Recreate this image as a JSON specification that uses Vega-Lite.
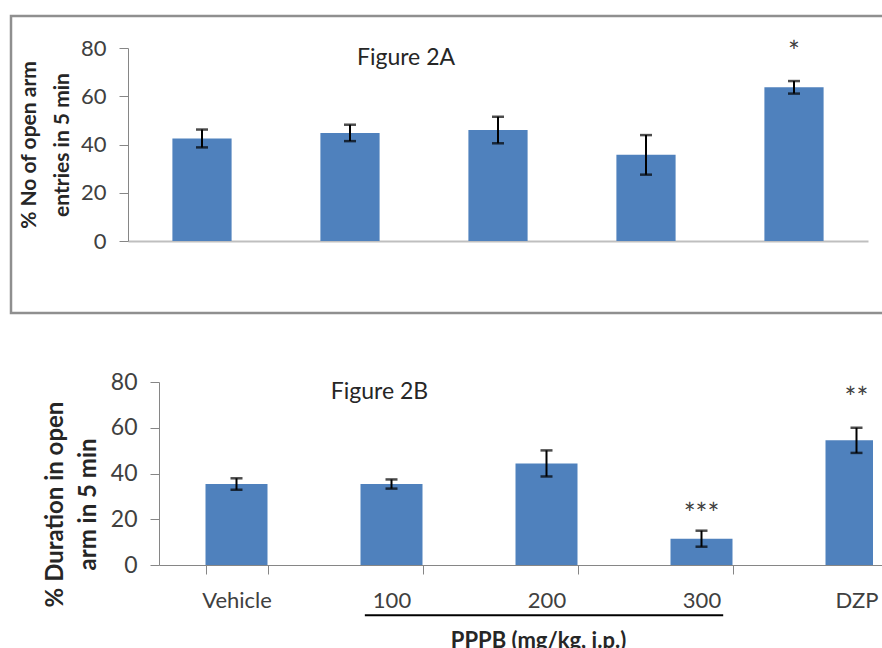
{
  "$schema": "https://vega.github.io/schema/vega-lite/v6.json",
  "padding": {"left": 9, "top": 14, "right": 0, "bottom": 0},
  "background": "white",
  "config": {
    "view": {"stroke": null},
    "concat": {"spacing": 20},
    "font": "Lato",
    "text": {"font": "Lato"}
  },
  "datasets": {
    "entries": [
      {"group": "Vehicle", "mean": 42.5, "sem": 3.7},
      {"group": "100", "mean": 44.8, "sem": 3.4},
      {"group": "200", "mean": 46.0, "sem": 5.5},
      {"group": "300", "mean": 35.7, "sem": 8.2},
      {"group": "DZP", "mean": 63.7, "sem": 2.6}
    ],
    "duration": [
      {"group": "Vehicle", "mean": 35.4, "sem": 2.5},
      {"group": "100", "mean": 35.4, "sem": 2.0},
      {"group": "200", "mean": 44.4, "sem": 5.7},
      {"group": "300", "mean": 11.5, "sem": 3.5},
      {"group": "DZP", "mean": 54.5, "sem": 5.5}
    ],
    "sigA": [
      {"group": "DZP", "label": "*", "at": 77.5}
    ],
    "sigB": [
      {"group": "300", "label": "***", "at": 21.5},
      {"group": "DZP", "label": "**", "at": 72}
    ],
    "captionA": [
      {"group": "100", "label": "Figure 2A", "at": 76}
    ],
    "captionB": [
      {"group": "100", "label": "Figure 2B", "at": 75.8}
    ],
    "doses": [
      {"group": "100", "to": "300", "at": -22}
    ]
  },
  "vconcat": [
    {
      "width": 880,
      "height": 297,
      "view": {"stroke": "#8f8f8f", "strokeWidth": 2.5},
      "data": {"name": "entries"},
      "encoding": {
        "x": {
          "field": "group",
          "type": "nominal",
          "sort": null,
          "scale": {"range": [117, 857], "paddingInner": 0.6, "paddingOuter": 0.3},
          "axis": {
            "orient": "bottom",
            "offset": -72,
            "labels": false,
            "ticks": false,
            "title": null,
            "domainColor": "#bfbfbf",
            "domainWidth": 2
          }
        },
        "y": {
          "field": "mean",
          "type": "quantitative",
          "scale": {"domain": [0, 80], "range": [225, 32], "nice": false},
          "axis": {
            "offset": -117,
            "values": [0, 20, 40, 60, 80],
            "grid": false,
            "tickSize": 9,
            "tickColor": "#868686",
            "domainColor": "#868686",
            "labelFontSize": 22,
            "labelColor": "#404040",
            "labelPadding": 13,
            "title": ["% No of open arm", "entries in 5 min"],
            "titleFontSize": 21,
            "titleFontWeight": "bold",
            "titleColor": "#262626",
            "titleLineHeight": 33,
            "titlePadding": 8
          }
        }
      },
      "layer": [
        {"mark": {"type": "bar", "color": "#4F81BD"}},
        {
          "mark": {"type": "errorbar", "color": "black", "thickness": 2, "ticks": {"size": 12, "thickness": 2.5, "color": "black"}},
          "encoding": {"yError": {"field": "sem"}}
        },
        {
          "data": {"name": "sigA"},
          "mark": {"type": "text", "fontSize": 28, "color": "#404040", "baseline": "middle"},
          "encoding": {
            "y": {"field": "at", "type": "quantitative"},
            "text": {"field": "label"}
          }
        },
        {
          "data": {"name": "captionA"},
          "mark": {"type": "text", "fontSize": 23, "color": "#262626", "baseline": "middle", "dx": 56},
          "encoding": {
            "y": {"field": "at", "type": "quantitative"},
            "text": {"field": "label"}
          }
        }
      ]
    },
    {
      "width": 862,
      "height": 230,
      "data": {"name": "duration"},
      "encoding": {
        "x": {
          "field": "group",
          "type": "nominal",
          "sort": null,
          "scale": {"range": [148, 923], "paddingInner": 0.6, "paddingOuter": 0.3},
          "axis": {
            "orient": "bottom",
            "labelAngle": 0,
            "tickBand": "extent",
            "tickSize": 9,
            "tickColor": "#868686",
            "domainColor": "#868686",
            "labelFontSize": 22,
            "labelColor": "#404040",
            "labelPadding": 16,
            "title": "PPPB (mg/kg, i.p.)",
            "titleFontSize": 22,
            "titleFontWeight": "bold",
            "titleColor": "#262626",
            "titlePadding": 19,
            "titleX": 527
          }
        },
        "y": {
          "field": "mean",
          "type": "quantitative",
          "scale": {"domain": [0, 80], "range": [230, 47], "nice": false},
          "axis": {
            "offset": -148,
            "values": [0, 20, 40, 60, 80],
            "grid": false,
            "tickSize": 9,
            "tickColor": "#868686",
            "domainColor": "#868686",
            "labelFontSize": 23,
            "labelColor": "#404040",
            "labelPadding": 13,
            "title": ["% Duration in open", "arm in 5 min"],
            "titleFontSize": 24,
            "titleFontWeight": "bold",
            "titleColor": "#262626",
            "titleLineHeight": 33,
            "titlePadding": 10,
            "titleY": 169
          }
        }
      },
      "layer": [
        {"mark": {"type": "bar", "color": "#4F81BD", "clip": true}},
        {
          "mark": {"type": "errorbar", "color": "black", "thickness": 2, "ticks": {"size": 12, "thickness": 2.5, "color": "black"}},
          "encoding": {"yError": {"field": "sem"}}
        },
        {
          "data": {"name": "sigB"},
          "mark": {"type": "text", "fontSize": 28, "color": "#404040", "baseline": "middle"},
          "encoding": {
            "y": {"field": "at", "type": "quantitative"},
            "text": {"field": "label"}
          }
        },
        {
          "data": {"name": "captionB"},
          "mark": {"type": "text", "fontSize": 23, "color": "#262626", "baseline": "middle", "dx": -12},
          "encoding": {
            "y": {"field": "at", "type": "quantitative"},
            "text": {"field": "label"}
          }
        },
        {
          "data": {"name": "doses"},
          "mark": {"type": "rule", "color": "black", "strokeWidth": 2},
          "encoding": {
            "x": {"field": "group", "type": "nominal", "bandPosition": 0.07},
            "x2": {"field": "to", "bandPosition": 0.85},
            "y": {"field": "at", "type": "quantitative"}
          }
        }
      ]
    }
  ]
}
